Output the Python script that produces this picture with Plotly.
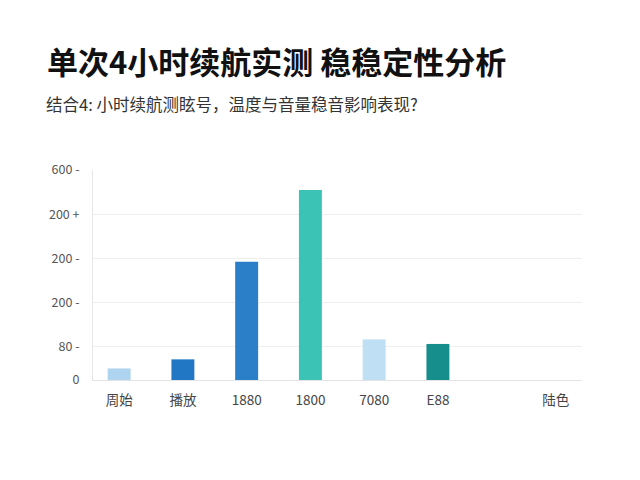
import plotly.graph_objects as go

# data
categories = ["周始", "播放", "1880", "1800", "7080", "E88", " ", "陆色"]
values = [33, 59, 338, 543, 116, 103, 0, 0]
bar_colors = ["#aed4ef", "#2277c5", "#2b7ec8", "#3bc4b6", "#bfe0f4", "#168f8c",
              "#ffffff", "#ffffff"]
y_tickvals = [0, 95, 221, 346, 473, 600]
y_ticktext = ["0", "80 -", "200 -", "200 -", "200 +", "600 -"]

FONT = "Noto Sans CJK SC, Noto Sans, sans-serif"

# last label sits a little left of its slot in the reference
x_ticktext = categories[:-1] + [categories[-1] + "\u3000\u00a0\u00a0"]

fig = go.Figure()

fig.add_trace(go.Bar(
    x=categories,
    y=values,
    marker=dict(color=bar_colors, line=dict(width=0)),
    width=0.36,
    showlegend=False,
    hoverinfo="x+y"
))

fig.add_annotation(
    text="<b>单次4小时续航实测 稳稳定性分析</b>",
    x=0, y=1, xref="paper", yref="paper",
    xanchor="left", yanchor="middle",
    xshift=-48, yshift=110,
    showarrow=False,
    font=dict(family=FONT, size=31, color="#111111")
)
fig.add_annotation(
    text="结合4: 小时续航测眩号，温度与音量稳音影响表现?",
    x=0, y=1, xref="paper", yref="paper",
    xanchor="left", yanchor="middle",
    xshift=-49, yshift=66,
    showarrow=False,
    font=dict(family=FONT, size=16.5, color="#333333")
)

fig.update_layout(
    width=624, height=464,
    margin=dict(l=85, r=50, t=162, b=92),
    plot_bgcolor="white",
    paper_bgcolor="white",
    font=dict(family=FONT, color="#444444"),
    xaxis=dict(
        type="category",
        range=[-0.41, 7.26],
        tickmode="array",
        tickvals=categories,
        ticktext=x_ticktext,
        showgrid=False,
        showline=True, linecolor="#e2e4e8", linewidth=1,
        ticks="",
        ticklabelstandoff=8,
        tickfont=dict(size=13.5, color="#444444"),
        fixedrange=True
    ),
    yaxis=dict(
        range=[0, 600],
        tickmode="array",
        tickvals=y_tickvals,
        ticktext=y_ticktext,
        showgrid=True, gridcolor="#efefef", gridwidth=1,
        showline=True, linecolor="#e6e6e6", linewidth=1,
        zeroline=False,
        ticks="",
        ticklabelstandoff=10,
        tickfont=dict(size=12.5, color="#555555"),
        fixedrange=True
    )
)

fig.write_html("out.html")
